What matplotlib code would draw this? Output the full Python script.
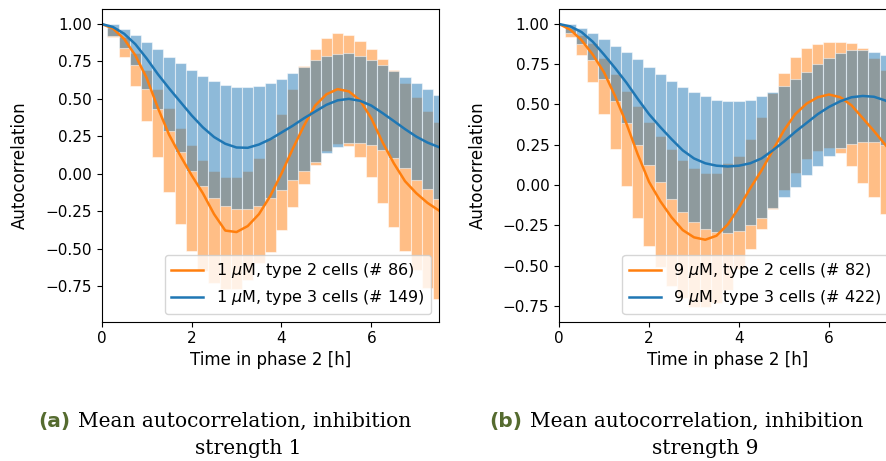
import numpy as np
import matplotlib
matplotlib.use("Agg")
import matplotlib.pyplot as plt

# time lags [h]: curves sampled every 15 min, one bar per lag after zero
lag_h = np.linspace(0, 7.5, 31)
bar_h = lag_h[1:]

# ---- panel (a): inhibition strength 1 ----
a_t2_mean = [1.00, 0.97, 0.90, 0.79, 0.64, 0.44, 0.26, 0.12, -0.01, -0.13,
             -0.27, -0.38, -0.39, -0.35, -0.27, -0.15, 0.00, 0.165, 0.32, 0.455,
             0.53, 0.565, 0.55, 0.49, 0.37, 0.21, 0.07, -0.05, -0.13, -0.195, -0.245]
a_t3_mean = [1.00, 0.98, 0.935, 0.865, 0.77, 0.665, 0.57, 0.48, 0.39, 0.31,
             0.245, 0.20, 0.175, 0.173, 0.195, 0.23, 0.275, 0.32, 0.37, 0.415,
             0.46, 0.49, 0.50, 0.487, 0.455, 0.405, 0.352, 0.298, 0.248, 0.208, 0.178]
a_t2_hi = [0.971, 0.911, 0.808, 0.692, 0.565, 0.436, 0.307, 0.191, 0.091, 0.020,
           -0.020, -0.025, 0.017, 0.106, 0.236, 0.396, 0.563, 0.72, 0.83, 0.904,
           0.938, 0.926, 0.889, 0.833, 0.764, 0.692, 0.603, 0.514, 0.421, 0.347]
a_t2_lo = [0.911, 0.779, 0.588, 0.354, 0.113, -0.121, -0.339, -0.517, -0.65, -0.73,
           -0.77, -0.77, -0.71, -0.60, -0.52, -0.373, -0.221, -0.069, 0.058, 0.151,
           0.198, 0.184, 0.109, -0.025, -0.194, -0.359, -0.517, -0.644, -0.767, -0.834]
a_t3_hi = [0.998, 0.964, 0.926, 0.877, 0.831, 0.782, 0.737, 0.693, 0.655, 0.621,
           0.592, 0.581, 0.581, 0.585, 0.603, 0.632, 0.670, 0.715, 0.759, 0.786,
           0.802, 0.804, 0.786, 0.759, 0.726, 0.686, 0.648, 0.608, 0.565, 0.525]
a_t3_lo = [0.92, 0.842, 0.726, 0.565, 0.434, 0.285, 0.147, 0.020, -0.083, -0.161,
           -0.214, -0.239, -0.236, -0.214, -0.165, -0.109, -0.043, 0.019, 0.08, 0.135,
           0.176, 0.202, 0.202, 0.191, 0.158, 0.106, 0.04, -0.043, -0.105, -0.172]

# ---- panel (b): inhibition strength 9 ----
b_t2_mean = [1.00, 0.965, 0.90, 0.81, 0.70, 0.55, 0.38, 0.19, 0.02, -0.10,
             -0.20, -0.28, -0.325, -0.34, -0.315, -0.245, -0.14, -0.02, 0.09, 0.215,
             0.34, 0.44, 0.505, 0.545, 0.562, 0.545, 0.495, 0.415, 0.335, 0.25, 0.17]
b_t3_mean = [1.00, 0.985, 0.95, 0.89, 0.81, 0.725, 0.635, 0.535, 0.44, 0.36,
             0.285, 0.215, 0.165, 0.135, 0.12, 0.115, 0.12, 0.135, 0.165, 0.215,
             0.27, 0.33, 0.385, 0.44, 0.485, 0.52, 0.545, 0.553, 0.548, 0.525, 0.49]
b_t2_hi = [0.972, 0.93, 0.879, 0.786, 0.687, 0.585, 0.49, 0.393, 0.304, 0.221,
           0.155, 0.103, 0.072, 0.072, 0.134, 0.18, 0.283, 0.424, 0.569, 0.697,
           0.792, 0.848, 0.875, 0.889, 0.889, 0.879, 0.848, 0.79, 0.713, 0.62]
b_t2_lo = [0.92, 0.806, 0.641, 0.438, 0.221, -0.004, -0.203, -0.378, -0.507, -0.63,
           -0.70, -0.76, -0.76, -0.73, -0.65, -0.52, -0.40, -0.273, -0.151, -0.031,
           0.077, 0.159, 0.211, 0.232, 0.196, 0.12, 0.014, -0.072, -0.18, -0.28]
b_t3_hi = [0.997, 0.972, 0.941, 0.906, 0.864, 0.823, 0.78, 0.734, 0.689, 0.647,
           0.61, 0.575, 0.552, 0.531, 0.523, 0.523, 0.531, 0.552, 0.579, 0.614,
           0.656, 0.703, 0.749, 0.79, 0.817, 0.837, 0.837, 0.827, 0.806, 0.78]
b_t3_lo = [0.941, 0.873, 0.775, 0.658, 0.521, 0.383, 0.248, 0.124, 0.017, -0.089,
           -0.165, -0.227, -0.273, -0.289, -0.296, -0.285, -0.248, -0.207, -0.145, -0.077,
           -0.010, 0.062, 0.12, 0.18, 0.227, 0.254, 0.269, 0.269, 0.25, 0.22]

a_labels = [r"1 $\mu$M, type 2 cells (# 86)", r"1 $\mu$M, type 3 cells (# 149)"]
b_labels = [r"9 $\mu$M, type 2 cells (# 82)", r"9 $\mu$M, type 3 cells (# 422)"]

ORANGE = "#ff7f0e"
BLUE = "#1f77b4"
CAPTION_GREEN = "#556b2f"

plt.rcParams["font.size"] = 11


def draw_panel(ax, t2_mean, t3_mean, t2_lo, t2_hi, t3_lo, t3_hi, labels, ylim):
    # spread bars first, type 3 on top so the overlap turns grey
    ax.bar(bar_h, np.subtract(t2_hi, t2_lo), bottom=t2_lo, width=0.25,
           color=ORANGE, alpha=0.5, edgecolor="white", linewidth=0.8)
    ax.bar(bar_h, np.subtract(t3_hi, t3_lo), bottom=t3_lo, width=0.25,
           color=BLUE, alpha=0.5, edgecolor="white", linewidth=0.8)
    ax.plot(lag_h, t2_mean, color=ORANGE, lw=1.8, label=labels[0])
    ax.plot(lag_h, t3_mean, color=BLUE, lw=1.8, label=labels[1])

    ax.set_xlim(0, 7.5)
    ax.set_ylim(*ylim)
    ax.set_xticks([0, 2, 4, 6])
    ax.set_yticks([-0.75, -0.5, -0.25, 0.0, 0.25, 0.5, 0.75, 1.0])
    ax.tick_params(labelsize=11)
    ax.set_xlabel("Time in phase 2 [h]", fontsize=12, labelpad=3)
    ax.set_ylabel("Autocorrelation", fontsize=12)
    ax.yaxis.set_label_coords(-0.215, 0.5)
    ax.legend(loc="lower right", fontsize=11.5)


fig = plt.figure(figsize=(8.87, 4.61), dpi=100)
W, H = 887.0, 461.0
bottom = (H - 321.7) / H
height = 312.2 / H
ax1 = fig.add_axes([101.7 / W, bottom, 337.0 / W, height])
ax2 = fig.add_axes([559.0 / W, bottom, 337.5 / W, height])

draw_panel(ax1, a_t2_mean, a_t3_mean, a_t2_lo, a_t2_hi, a_t3_lo, a_t3_hi,
           a_labels, (-0.989, 1.097))
draw_panel(ax2, b_t2_mean, b_t3_mean, b_t2_lo, b_t2_hi, b_t3_lo, b_t3_hi,
           b_labels, (-0.849, 1.09))

# sub-figure captions, serif like the document text
cap_font = dict(family="DejaVu Serif", fontsize=14.5)
captions = [("(a)", "Mean autocorrelation, inhibition", "strength 1", 245.0, 248.0),
            ("(b)", "Mean autocorrelation, inhibition", "strength 9", 697.0, 705.0)]
fig.canvas.draw()
renderer = fig.canvas.get_renderer()
for tag, line1, line2, x1, x2 in captions:
    body = fig.text(x1 / W, (H - 426.7) / H, line1, ha="center", va="baseline", **cap_font)
    fig.text(x2 / W, (H - 454.0) / H, line2, ha="center", va="baseline", **cap_font)
    bb = body.get_window_extent(renderer)
    fig.text((bb.x0 - 8) / W, (H - 426.7) / H, tag, ha="right", va="baseline",
             color=CAPTION_GREEN, fontweight="bold", family="DejaVu Sans",
             fontsize=14.5)

fig.savefig("out.png", dpi=100)
